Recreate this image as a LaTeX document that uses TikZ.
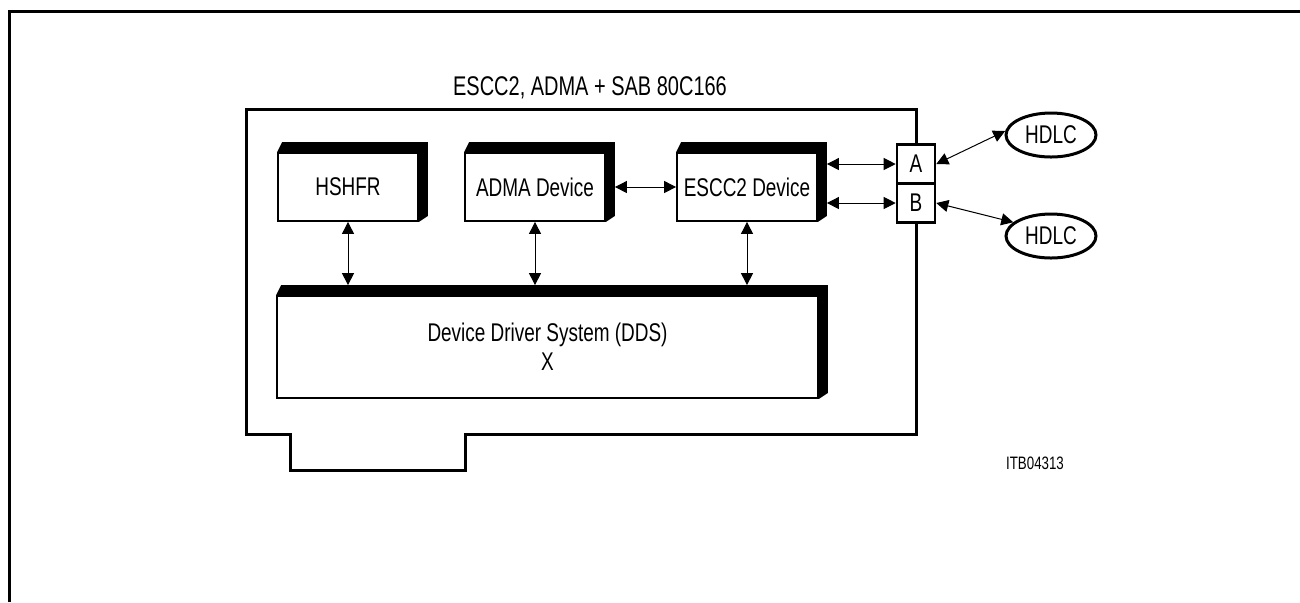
\documentclass[tikz,border=0pt]{standalone}
\usepackage{fontspec}
\setmainfont{Liberation Sans}[FakeStretch=0.74]
\usetikzlibrary{arrows.meta,calc,shapes.geometric}
\tikzset{
  txt/.style={font=\fontsize{12.8}{14.6}\selectfont},
  frameline/.style={line width=1.5pt},
  slab/.style={draw, line width=0.9pt, fill=white, inner sep=0pt, txt},
  dev/.style={slab, minimum width=70pt, minimum height=34pt},
  port/.style={draw, line width=1.3pt, fill=white, minimum width=19pt, minimum height=19.5pt, inner sep=0pt, txt},
  hdlc/.style={draw, ellipse, line width=1.5pt, minimum width=45pt, minimum height=22pt, inner sep=0pt, txt},
  link/.style={line width=0.5pt, {Triangle[length=6pt,width=6pt]}-{Triangle[length=6pt,width=6pt]}},
  lbl/.style={inner sep=0pt, font=\fontsize{13.5}{15}\selectfont}
}
\begin{document}
\begin{tikzpicture}[x=0.5pt,y=-0.5pt]
\useasboundingbox (0,0) rectangle (1300,602);
% outer frame
\draw[frameline] (9,602) -- (9,11) -- (1300,11);
% card outline
\draw[frameline] (246,109) -- (916,109) -- (916,434) -- (465,434) -- (465,470)
  -- (290,470) -- (290,434) -- (246,434) -- cycle;
\node[lbl] (title) at (590,88) {ESCC2, ADMA + SAB 80C166};
% devices
\node[dev] (hshfr) at (348,187) {HSHFR};
\node[dev] (adma) at (535,187) {ADMA Device};
\node[dev] (escc) at (747,187) {ESCC2 Device};
\node[slab, minimum width=270.5pt, minimum height=51pt, align=center] (dds) at (547.5,347)
  {Device Driver System (DDS)\\X};
% 3D bands
\foreach \n in {hshfr,adma,escc,dds} {
  \fill (\n.north west) -- ($(\n.north west)+(5,-10)$) -- ($(\n.north east)+(9,-10)$)
    -- ($(\n.south east)+(9,-6)$) -- (\n.south east) -- (\n.north east) -- cycle;
}
% ports
\node[port] (a) at (916,164) {A};
\node[port] (b) at (916,203) {B};
% HDLC
\node[hdlc] (h1) at (1051,135) {HDLC};
\node[hdlc] (h2) at (1051,236) {HDLC};
% connectors
\draw[link] ($(adma.east)+(9,0)$) -- (escc.west);
\draw[link] ($(escc.east|-a.west)+(9,0)$) -- (a.west);
\draw[link] ($(escc.east|-b.west)+(9,0)$) -- (b.west);
\draw[link] (a.east) -- (h1.175);
\draw[link] (b.east) -- (h2.160);
\draw[link] (hshfr.south) -- ($(hshfr.south|-dds.north)+(0,-10)$);
\draw[link] (adma.south) -- ($(adma.south|-dds.north)+(0,-10)$);
\draw[link] (escc.south) -- ($(escc.south|-dds.north)+(0,-10)$);
% code
\node[inner sep=0pt, font=\fontsize{9}{11}\selectfont] (code) at (1035,463) {ITB04313};
\end{tikzpicture}
\end{document}
